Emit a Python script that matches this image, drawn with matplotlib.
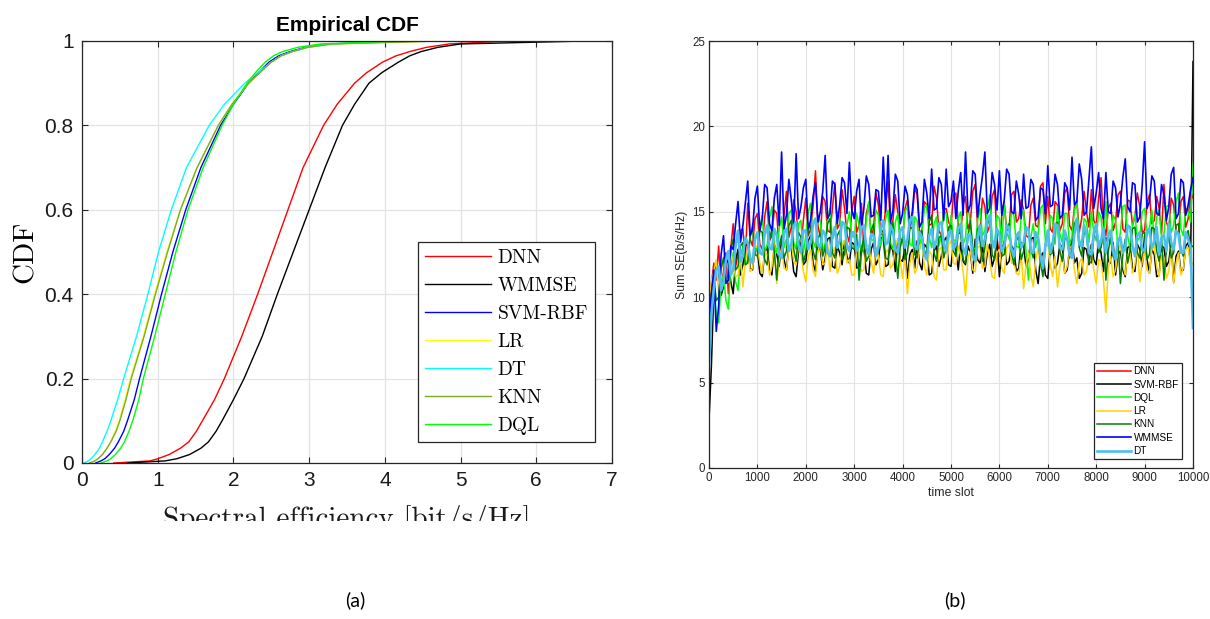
import matplotlib
matplotlib.use("Agg")
import matplotlib.pyplot as plt
from matplotlib.transforms import Bbox

plt.rcParams['mathtext.fontset'] = 'cm'
plt.rcParams['font.family'] = ['Liberation Sans', 'DejaVu Sans']
plt.rcParams['axes.unicode_minus'] = False

# ---------------- (a) Empirical CDF data (quantiles at given CDF levels) ----------------
cdf_levels = [0.0, 0.005, 0.01, 0.02, 0.035, 0.05, 0.075, 0.1, 0.15, 0.2, 0.3, 0.4, 0.5,
              0.6, 0.7, 0.8, 0.85, 0.9, 0.925, 0.95, 0.965, 0.975, 0.985, 0.993, 1.0]
cdf_names = ['DNN', 'WMMSE', 'SVM-RBF', 'LR', 'DT', 'KNN', 'DQL']
q_dnn = [0.42, 0.9, 1.0, 1.15, 1.3, 1.41, 1.51, 1.59, 1.75, 1.88, 2.11, 2.32, 2.52,
         2.72, 2.92, 3.19, 3.37, 3.6, 3.76, 3.97, 4.15, 4.33, 4.55, 4.85, 5.6]
q_wmmse = [0.6, 1.1, 1.25, 1.42, 1.57, 1.67, 1.77, 1.85, 2.0, 2.14, 2.38, 2.58, 2.79,
           3.0, 3.21, 3.44, 3.6, 3.79, 3.96, 4.18, 4.33, 4.48, 4.7, 5.0, 6.65]
q_svm = [0.18, 0.25, 0.3, 0.36, 0.43, 0.48, 0.55, 0.6, 0.69, 0.76, 0.91, 1.05, 1.2,
         1.37, 1.57, 1.83, 2.0, 2.2, 2.33, 2.47, 2.6, 2.75, 2.95, 3.25, 4.5]
q_lr = [0.1, 0.17, 0.21, 0.27, 0.33, 0.38, 0.44, 0.49, 0.57, 0.64, 0.81, 0.96, 1.12,
        1.30, 1.52, 1.80, 1.98, 2.2, 2.35, 2.5, 2.63, 2.78, 2.98, 3.3, 4.7]
q_dt = [0.03, 0.08, 0.12, 0.17, 0.23, 0.27, 0.33, 0.38, 0.47, 0.55, 0.72, 0.87, 1.01,
        1.18, 1.38, 1.68, 1.88, 2.15, 2.32, 2.5, 2.63, 2.78, 2.98, 3.3, 4.0]
q_knn = [0.1, 0.17, 0.21, 0.27, 0.33, 0.38, 0.45, 0.5, 0.58, 0.65, 0.82, 0.97, 1.13,
         1.30, 1.52, 1.80, 1.98, 2.2, 2.35, 2.5, 2.63, 2.78, 2.98, 3.3, 4.7]
q_dql = [0.25, 0.33, 0.38, 0.44, 0.51, 0.56, 0.62, 0.67, 0.75, 0.81, 0.96, 1.1, 1.24,
         1.4, 1.6, 1.85, 2.0, 2.18, 2.29, 2.42, 2.53, 2.65, 2.85, 3.15, 4.2]
cdf_quantiles = [q_dnn, q_wmmse, q_svm, q_lr, q_dt, q_knn, q_dql]
cdf_colors = ['#ff0000', '#000000', '#0000ff', '#ffff00', '#00ffff', '#77ac30', '#00ff00']

# ---------------- (b) Sum SE over time slots ----------------
time_slots = list(range(0, 10001, 50))
se_dnn = [
    9.5, 10.8, 12.0, 11.0, 13.0, 10.5, 11.5, 12.6, 10.2, 12.9, 14.3, 11.8, 12.5, 13.9, 14.0, 12.2, 15.5, 13.4, 13.0, 14.6,
    14.9, 13.1, 12.8, 14.7, 15.6, 13.3, 13.6, 15.1, 14.9, 12.7, 13.0, 14.8, 16.2, 13.5, 14.1, 15.7, 15.0, 13.4, 12.9, 14.5,
    15.8, 13.6, 14.0, 15.3, 17.4, 14.2, 13.5, 15.9, 15.6, 13.9, 13.8, 15.2, 16.7, 14.0, 14.3, 16.3, 15.2, 13.7, 13.2, 15.0,
    15.9, 13.8, 14.2, 15.5, 12.8, 14.9, 15.5, 13.6, 14.0, 16.1, 15.4, 13.7, 13.6, 15.3, 16.8, 14.1, 14.5, 16.0, 15.0, 13.4,
    13.3, 15.2, 15.7, 14.0, 14.6, 16.4, 16.0, 13.8, 13.9, 15.6, 15.4, 14.2, 14.3, 16.5, 15.8, 13.9, 13.6, 15.1, 15.2, 14.4,
    14.1, 16.0, 16.1, 14.3, 13.7, 15.4, 15.9, 14.0, 14.4, 16.2, 16.6, 14.1, 13.9, 15.8, 15.3, 13.8, 14.2, 15.9, 16.3, 13.5,
    12.4, 14.9, 15.6, 13.9, 14.0, 16.0, 16.2, 14.4, 14.6, 15.7, 15.1, 13.6, 13.5, 15.4, 15.8, 14.2, 14.1, 16.5, 16.7, 14.3,
    15.9, 14.0, 13.8, 15.6, 15.4, 13.9, 14.3, 16.1, 16.4, 14.2, 13.9, 15.3, 15.7, 13.8, 14.6, 16.2, 15.0, 14.1, 16.3, 14.5,
    14.2, 15.8, 17.0, 14.3, 13.6, 15.2, 15.5, 13.9, 14.4, 16.0, 16.2, 14.0, 13.8, 15.7, 15.6, 14.2, 14.7, 16.1, 15.3, 13.8,
    13.9, 15.5, 16.0, 14.3, 14.5, 15.9, 15.2, 13.7, 16.6, 14.4, 14.0, 15.8, 15.4, 13.9, 13.7, 15.6, 15.9, 14.1, 14.6, 16.2,
    15.8]
se_svm = [
    2.8, 6.0, 10.5, 11.9, 11.4, 10.1, 10.6, 12.3, 12.0, 10.9, 10.2, 12.2, 12.8, 11.3, 11.9, 13.0, 13.1, 11.7, 11.6, 12.9,
    12.7, 11.4, 11.2, 12.6, 13.0, 11.6, 11.3, 13.1, 12.5, 11.8, 13.4, 12.2, 11.6, 13.0, 12.9, 11.5, 11.2, 12.7, 13.2, 11.9,
    12.1, 13.3, 13.6, 12.0, 11.5, 12.9, 12.8, 11.6, 12.3, 13.4, 13.5, 11.8, 11.7, 13.0, 12.6, 11.9, 13.3, 12.4, 12.0, 13.2,
    13.1, 11.7, 11.8, 13.0, 12.9, 11.4, 11.3, 12.8, 13.2, 11.9, 12.2, 13.4, 13.6, 11.8, 11.9, 13.1, 12.7, 11.5, 13.4, 12.2,
    12.1, 13.0, 11.1, 12.5, 12.8, 11.7, 13.3, 12.0, 11.6, 13.1, 12.9, 11.3, 11.4, 12.7, 13.0, 11.8, 12.4, 13.3, 13.5, 11.9,
    11.8, 13.2, 12.7, 11.6, 13.2, 12.1, 11.9, 13.0, 12.6, 11.4, 13.4, 12.2, 12.0, 13.1, 11.5, 12.6, 13.1, 11.8, 12.3, 13.3,
    11.2, 12.7, 13.3, 11.9, 12.1, 13.0, 12.8, 11.5, 11.7, 13.2, 13.0, 11.8, 12.2, 13.4, 13.5, 11.6, 10.8, 12.4, 12.6, 11.3,
    11.1, 12.9, 13.2, 11.7, 12.0, 13.1, 12.9, 11.4, 11.6, 12.8, 13.4, 12.0, 12.3, 11.1, 11.4, 12.9, 12.8, 11.9, 13.1, 12.2,
    11.9, 13.3, 12.6, 11.5, 13.5, 12.1, 12.0, 13.2, 11.3, 12.5, 12.7, 11.6, 11.2, 12.9, 13.0, 11.7, 11.5, 13.1, 12.8, 11.8,
    13.6, 12.2, 11.4, 12.8, 12.5, 11.2, 11.3, 13.0, 12.9, 11.8, 12.1, 13.2, 10.9, 12.4, 12.7, 11.5, 11.6, 13.0, 13.2, 12.0,
    23.8]
se_dql = [
    7.5, 9.6, 10.8, 9.0, 8.5, 10.9, 11.3, 9.8, 9.3, 11.8, 12.6, 10.9, 10.4, 12.4, 13.0, 11.9, 12.2, 13.5, 14.3, 12.6,
    12.9, 14.1, 14.8, 12.7, 13.0, 14.6, 15.3, 13.1, 12.6, 14.0, 14.7, 12.9, 13.4, 14.9, 15.1, 13.2, 12.8, 14.3, 14.5, 12.6,
    13.6, 15.0, 15.5, 13.3, 12.9, 14.8, 14.4, 12.7, 13.1, 14.6, 15.2, 13.4, 13.8, 15.0, 14.6, 12.8, 12.7, 14.2, 15.0, 13.6,
    13.5, 14.9, 14.2, 12.6, 12.9, 14.5, 15.6, 13.4, 13.3, 15.1, 14.8, 13.0, 13.7, 14.6, 15.1, 13.2, 12.8, 14.4, 14.9, 13.1,
    13.4, 15.0, 15.3, 13.1, 13.0, 14.7, 14.5, 12.8, 13.8, 15.2, 15.4, 13.5, 12.9, 14.3, 14.7, 13.0, 13.6, 15.1, 14.9, 13.3,
    14.8, 13.4, 13.2, 14.6, 15.0, 13.1, 13.5, 15.3, 14.4, 12.9, 12.8, 14.5, 15.2, 13.6, 13.9, 15.0, 16.0, 13.4, 13.1, 14.8,
    14.6, 13.2, 15.5, 13.8, 13.4, 15.0, 14.8, 13.0, 12.9, 14.7, 15.1, 12.6, 11.0, 13.5, 14.3, 12.9, 13.7, 15.2, 15.4, 13.3,
    13.0, 14.8, 14.6, 13.1, 15.3, 13.7, 13.2, 14.9, 14.9, 13.0, 13.6, 15.1, 15.5, 13.4, 12.9, 14.6, 14.4, 13.2, 15.0, 13.8,
    13.3, 15.0, 14.7, 13.1, 15.6, 13.5, 13.1, 14.8, 14.5, 12.9, 13.8, 15.3, 15.4, 13.6, 12.8, 14.2, 14.9, 13.3, 13.5, 15.0,
    15.2, 13.6, 14.0, 15.1, 13.3, 14.7, 15.1, 13.5, 13.7, 15.3, 15.4, 13.8, 14.2, 15.6, 16.1, 14.0, 13.6, 15.2, 15.0, 14.4,
    17.8]
se_lr = [
    9.8, 11.0, 11.5, 12.2, 10.2, 11.4, 12.4, 11.1, 10.9, 12.6, 12.0, 11.2, 11.3, 12.5, 10.6, 12.1, 12.8, 11.5, 11.7, 12.9,
    13.0, 12.0, 11.4, 12.7, 12.5, 11.3, 11.8, 13.1, 10.8, 12.2, 12.9, 11.7, 11.6, 12.8, 13.2, 12.1, 11.9, 13.0, 12.6, 11.5,
    10.9, 12.4, 12.8, 11.6, 11.2, 12.7, 13.1, 11.9, 12.0, 13.2, 11.5, 12.6, 12.9, 11.4, 11.8, 13.0, 13.3, 12.0, 12.2, 11.3,
    11.3, 12.8, 12.7, 11.5, 11.6, 13.1, 13.0, 12.1, 11.4, 12.9, 12.4, 11.3, 11.2, 12.6, 12.8, 11.7, 11.9, 13.0, 13.4, 12.2,
    11.1, 12.4, 10.2, 12.0, 12.6, 11.4, 11.7, 13.0, 13.2, 11.8, 11.3, 12.7, 12.5, 11.2, 11.0, 12.8, 12.9, 11.6, 11.6, 13.1,
    13.3, 12.0, 11.9, 13.0, 12.4, 11.5, 10.1, 12.3, 12.7, 11.6, 11.5, 12.9, 13.0, 11.7, 11.8, 13.1, 12.2, 11.2, 11.1, 12.6,
    12.8, 11.7, 11.4, 12.9, 13.1, 12.0, 12.0, 11.4, 11.3, 12.5, 10.5, 11.9, 12.6, 11.3, 10.6, 12.2, 12.9, 11.8, 11.7, 13.0,
    13.2, 11.9, 11.2, 12.4, 10.6, 11.8, 12.5, 11.4, 11.8, 12.9, 13.0, 11.6, 10.8, 12.0, 12.3, 11.3, 11.5, 12.7, 12.8, 11.6,
    10.8, 12.2, 12.1, 11.0, 9.1, 11.7, 12.4, 11.2, 11.6, 12.8, 13.1, 11.9, 11.3, 12.5, 12.6, 11.4, 11.9, 13.0, 10.9, 12.1,
    12.7, 11.6, 11.4, 12.8, 13.0, 11.8, 11.2, 12.6, 12.3, 11.1, 11.5, 12.9, 10.8, 12.0, 12.6, 11.3, 11.7, 12.8, 12.9, 11.8,
    12.0]
se_knn = [
    8.0, 10.1, 11.2, 9.8, 10.0, 11.7, 12.3, 10.9, 11.0, 12.8, 13.4, 11.6, 11.8, 13.0, 13.2, 11.9, 12.0, 13.6, 14.1, 12.5,
    12.4, 13.9, 13.8, 12.2, 11.9, 13.4, 14.0, 12.6, 11.0, 12.9, 13.6, 12.3, 12.7, 14.2, 14.5, 12.8, 12.1, 13.8, 13.5, 12.0,
    12.6, 14.0, 14.2, 12.7, 12.2, 13.5, 13.7, 12.4, 12.9, 14.3, 14.6, 12.6, 12.3, 13.6, 13.9, 12.2, 12.5, 14.1, 14.0, 12.9,
    12.8, 13.7, 11.0, 12.6, 13.6, 12.1, 12.4, 13.9, 14.3, 12.5, 12.7, 14.0, 13.8, 12.3, 12.2, 13.6, 14.4, 12.7, 11.1, 12.9,
    13.5, 12.2, 12.6, 14.0, 14.1, 12.5, 12.3, 13.7, 13.9, 12.4, 12.8, 14.4, 14.8, 12.6, 12.1, 13.5, 13.6, 12.3, 12.9, 14.1,
    14.2, 12.7, 12.4, 13.8, 13.7, 12.2, 12.0, 13.5, 14.5, 12.8, 12.6, 14.0, 13.3, 12.1, 12.9, 14.2, 14.7, 12.5, 12.2, 13.6,
    13.8, 12.4, 12.5, 14.1, 14.3, 12.6, 11.9, 13.3, 13.6, 12.2, 12.7, 14.0, 14.0, 12.8, 12.3, 13.7, 13.4, 12.0, 11.2, 13.1,
    13.9, 12.5, 12.6, 14.2, 14.4, 12.7, 12.1, 13.4, 13.5, 12.3, 12.8, 14.3, 14.6, 12.9, 12.4, 13.8, 13.7, 12.1, 12.0, 13.5,
    14.2, 12.6, 12.9, 13.9, 11.0, 12.7, 13.6, 12.4, 12.2, 13.3, 10.8, 12.5, 13.4, 12.0, 12.7, 14.0, 14.1, 12.6, 12.3, 13.7,
    13.8, 12.2, 12.5, 14.1, 14.0, 12.7, 12.1, 13.5, 11.0, 12.8, 13.7, 12.3, 12.6, 14.2, 14.3, 12.8, 12.4, 13.6, 13.9, 12.9,
    13.0]
se_wmmse = [
    8.5, 10.2, 11.6, 8.0, 9.5, 12.5, 13.6, 10.8, 11.0, 13.0, 12.8, 14.3, 15.6, 13.2, 14.2, 15.5, 16.8, 13.6, 14.0, 15.8,
    16.5, 13.9, 14.6, 16.6, 16.4, 14.3, 13.9, 15.8, 16.6, 14.2, 18.5, 14.0, 14.8, 16.9, 15.7, 14.2, 18.4, 14.6, 15.3, 16.4,
    16.9, 14.0, 14.5, 15.9, 16.7, 14.4, 15.0, 16.2, 18.3, 14.6, 14.9, 16.8, 16.6, 14.3, 15.4, 17.0, 16.7, 14.9, 17.9, 15.1,
    14.6, 16.2, 16.9, 14.1, 15.2, 17.1, 16.6, 14.7, 14.8, 16.3, 16.2, 14.5, 18.2, 15.0, 18.3, 14.4, 15.1, 17.2, 16.8, 14.3,
    14.9, 16.5, 16.0, 14.2, 15.0, 16.6, 16.3, 14.1, 14.4, 16.9, 16.1, 14.6, 17.5, 15.1, 15.2, 17.0, 16.6, 14.5, 17.5, 15.3,
    15.6, 16.8, 14.6, 16.2, 17.3, 14.8, 18.5, 15.0, 15.4, 17.4, 17.2, 14.7, 16.0, 17.1, 18.5, 14.9, 15.2, 17.3, 16.6, 15.1,
    17.4, 14.8, 15.7, 17.5, 17.2, 15.0, 14.9, 16.8, 16.0, 14.6, 17.2, 15.2, 15.3, 16.9, 16.6, 14.5, 14.7, 16.4, 16.3, 14.9,
    17.7, 15.3, 15.4, 17.2, 16.6, 14.6, 14.8, 16.7, 16.4, 15.1, 18.2, 15.4, 15.6, 17.8, 16.9, 14.8, 15.0, 16.9, 18.8, 15.2,
    16.1, 17.3, 15.2, 14.6, 17.3, 15.0, 14.9, 16.8, 16.4, 14.7, 15.5, 17.0, 18.1, 15.3, 15.0, 16.7, 16.6, 14.4, 14.7, 16.5,
    19.1, 15.2, 15.6, 17.1, 16.8, 14.9, 14.8, 16.6, 16.0, 14.5, 15.3, 17.2, 17.6, 14.6, 14.9, 16.9, 16.7, 14.8, 15.4, 16.3,
    17.0]
se_dt = [
    6.0, 9.0, 10.5, 11.6, 11.8, 10.4, 10.9, 12.2, 12.7, 11.3, 11.6, 13.0, 13.9, 12.1, 12.4, 13.5, 13.2, 12.3, 12.0, 13.4,
    13.8, 12.6, 12.5, 13.7, 14.2, 12.9, 12.8, 14.0, 13.6, 12.5, 12.3, 13.8, 14.0, 12.7, 13.1, 14.2, 14.4, 13.0, 12.6, 13.9,
    13.9, 12.8, 13.2, 14.3, 14.6, 13.1, 12.9, 13.9, 13.7, 12.6, 12.4, 13.6, 14.1, 12.9, 13.3, 14.4, 14.3, 13.0, 12.7, 13.8,
    13.8, 12.7, 13.0, 14.1, 14.2, 12.9, 12.5, 13.7, 13.6, 12.4, 12.9, 14.0, 14.5, 13.1, 13.2, 14.2, 13.9, 12.8, 12.6, 13.9,
    14.1, 12.9, 13.4, 14.5, 14.7, 13.0, 12.8, 13.8, 13.5, 12.5, 12.2, 13.6, 14.0, 12.9, 13.3, 14.3, 14.4, 13.1, 12.7, 13.8,
    13.9, 12.8, 13.1, 14.0, 14.3, 12.9, 12.5, 13.7, 13.6, 12.4, 12.1, 13.5, 14.2, 13.0, 13.4, 14.5, 14.8, 13.2, 12.9, 14.0,
    13.7, 12.7, 13.0, 14.2, 14.1, 12.8, 12.4, 13.6, 13.8, 12.9, 13.2, 14.1, 14.0, 12.7, 12.6, 13.8, 13.5, 12.4, 11.7, 13.0,
    13.9, 12.6, 13.1, 14.3, 14.2, 12.9, 12.8, 13.9, 13.4, 12.5, 12.3, 13.7, 14.6, 13.1, 13.0, 14.2, 13.7, 12.6, 12.5, 13.8,
    14.3, 12.9, 13.3, 14.0, 12.6, 13.6, 13.9, 12.7, 12.2, 13.4, 13.5, 12.6, 12.9, 14.2, 14.1, 13.0, 12.4, 13.6, 13.8, 12.8,
    12.7, 13.9, 14.0, 12.9, 13.2, 14.1, 12.5, 13.5, 13.6, 12.7, 14.3, 13.2, 12.8, 13.9, 13.7, 12.6, 12.6, 13.8, 13.4, 12.9,
    8.2]
se_names = ['DNN', 'SVM-RBF', 'DQL', 'LR', 'KNN', 'WMMSE', 'DT']
se_series = [se_dnn, se_svm, se_dql, se_lr, se_knn, se_wmmse, se_dt]
se_colors = ['#ff0000', '#000000', '#00ff00', '#ffd200', '#008000', '#0000ff', '#4dbeee']
se_widths = [1.1, 1.1, 1.1, 1.1, 1.1, 1.2, 1.9]

W, H = 1210, 619
fig = plt.figure(figsize=(W / 100, H / 100), dpi=100)
CM = ['cmr10', 'DejaVu Serif']

# ---------------- left axes ----------------
axL = fig.add_axes([82 / W, 1 - 463 / H, 530 / W, 422 / H])
for name, q, c in zip(cdf_names, cdf_quantiles, cdf_colors):
    axL.plot(q, cdf_levels, color=c, lw=1.0, label=name)
axL.set_xlim(0, 7)
axL.set_ylim(0, 1)
axL.set_xticks(range(0, 8))
axL.set_yticks([0, 0.2, 0.4, 0.6, 0.8, 1.0])
axL.set_yticklabels(['0', '0.2', '0.4', '0.6', '0.8', '1'])
axL.grid(True, color='#e3e3e3', lw=0.9)
axL.set_axisbelow(True)
axL.tick_params(direction='in', length=4, width=0.8, top=True, right=True,
                labelsize=15, colors='#262626', labelcolor='#1a1a1a', pad=6)
for s in axL.spines.values():
    s.set_color('#262626')
    s.set_linewidth(0.9)
axL.set_title('Empirical CDF', fontsize=15, fontweight='bold', pad=7)
axL.set_ylabel('CDF', fontsize=21, labelpad=4, family=CM)
leg = axL.legend(loc='lower right', bbox_to_anchor=(0.968, 0.0498),
                 prop={'family': CM, 'size': 14},
                 handlelength=3.4, handletextpad=0.35, labelspacing=0.52,
                 borderpad=0.35, borderaxespad=0, fancybox=False, framealpha=1)
leg.get_frame().set_edgecolor('#262626')
leg.get_frame().set_linewidth(0.9)
xl = fig.text(347 / W, 1 - 505 / H, 'Spectral efficiency [bit/s/Hz]',
              ha='center', va='top', fontsize=21, color='#1a1a1a', family=CM)
xl.set_clip_box(Bbox([[0, H - 521], [W, H]]))
xl.set_clip_on(True)

# ---------------- right axes ----------------
axR = fig.add_axes([709 / W, 1 - 468 / H, 484 / W, 427 / H])
for name, y, c, lw in zip(se_names, se_series, se_colors, se_widths):
    axR.plot(time_slots, y, color=c, lw=lw, label=name)
axR.set_xlim(0, 10000)
axR.set_ylim(0, 25)
axR.set_xticks(range(0, 10001, 1000))
axR.set_yticks(range(0, 26, 5))
axR.grid(True, color='#e3e3e3', lw=0.8)
axR.set_axisbelow(True)
axR.tick_params(direction='in', length=3, width=0.8, top=True, right=True,
                labelsize=8.3, colors='#262626', pad=3)
for s in axR.spines.values():
    s.set_color('#262626')
    s.set_linewidth(0.9)
axR.set_xlabel('time slot', fontsize=8.8, color='#262626', labelpad=2)
axR.set_ylabel('Sum SE(b/s/Hz)', fontsize=8.8, color='#262626', labelpad=3)
legR = axR.legend(loc='lower right', bbox_to_anchor=(0.977, 0.021), fontsize=7.2,
                  handlelength=3.4, handletextpad=0.3, labelspacing=0.33,
                  borderpad=0.3, borderaxespad=0, fancybox=False, framealpha=1)
legR.get_frame().set_edgecolor('#262626')
legR.get_frame().set_linewidth(0.9)

# ---------------- captions ----------------
fig.text(355 / W, 1 - 600 / H, '(a)', ha='center', va='center', fontsize=14,
         family=['Lato', 'DejaVu Sans'])
fig.text(955 / W, 1 - 600 / H, '(b)', ha='center', va='center', fontsize=14,
         family=['Lato', 'DejaVu Sans'])

fig.savefig('out.png', dpi=100, facecolor='white')
